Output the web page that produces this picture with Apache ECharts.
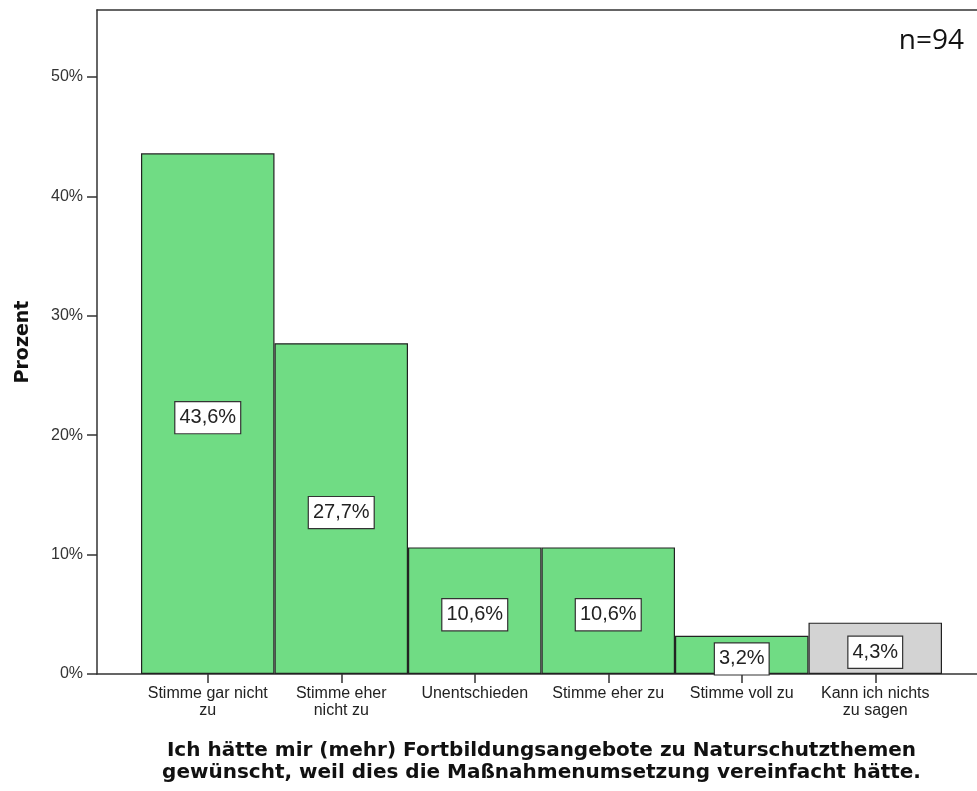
<!DOCTYPE html>
<html>
<head>
<meta charset="utf-8">
<script src="https://cdn.jsdelivr.net/npm/echarts@6/dist/echarts.min.js"></script>
<style>
  html, body { margin: 0; padding: 0; background: #fff; }
  #chart { width: 977px; height: 791px; }
</style>
</head>
<body>
<div id="chart"></div>
<script>
const categories = [
  'Stimme gar nicht\nzu',
  'Stimme eher\nnicht zu',
  'Unentschieden',
  'Stimme eher zu',
  'Stimme voll zu',
  'Kann ich nichts\nzu sagen',
];
const percentValues = [43.6, 27.7, 10.6, 10.6, 3.2, 4.3];
const yTicks = [0, 10, 20, 30, 40, 50];
const sampleSize = 'n=94';
const axisTitle = 'Ich hätte mir (mehr) Fortbildungsangebote zu Naturschutzthemen\ngewünscht, weil dies die Maßnahmenumsetzung vereinfacht hätte.';

// letzte Kategorie = keine Angabe, grau
const green = '#70dc84';
const grey = '#d3d3d3';

const yMax = 55.6;
const plotTop = 10;
const plotBottom = 117;

const chart = echarts.init(document.getElementById('chart'), null, { renderer: 'canvas' });

const frameLine = { show: true, onZero: false, lineStyle: { color: '#333', width: 1.5 } };

chart.setOption({
  animation: false,
  backgroundColor: '#fff',
  title: {
    text: sampleSize,
    right: 8,
    top: 22,
    textStyle: { fontFamily: '"Open Sans", sans-serif', fontSize: 28, fontWeight: 'normal', color: '#111' },
  },
  grid: [
    // Rahmen mit y-Achse
    { left: 97, right: 0, top: plotTop, bottom: plotBottom },
    // Balken
    { left: 141, right: 35, top: plotTop, bottom: plotBottom },
  ],
  xAxis: [
    {
      gridIndex: 0,
      type: 'value',
      min: 0,
      max: 1,
      axisLine: frameLine,
      axisTick: { show: false },
      axisLabel: { show: false },
      splitLine: { show: false },
    },
    {
      gridIndex: 0,
      type: 'value',
      position: 'top',
      min: 0,
      max: 1,
      axisLine: frameLine,
      axisTick: { show: false },
      axisLabel: { show: false },
      splitLine: { show: false },
    },
    {
      gridIndex: 1,
      type: 'category',
      data: categories,
      boundaryGap: true,
      axisLine: { show: false },
      axisTick: { show: true, alignWithLabel: true, length: 9, lineStyle: { color: '#333', width: 1.5 } },
      axisLabel: {
        margin: 11,
        interval: 0,
        fontFamily: '"Liberation Sans", Arial, sans-serif',
        fontSize: 16,
        lineHeight: 17,
        color: '#222',
      },
      name: axisTitle,
      nameLocation: 'middle',
      nameGap: 66,
      nameTextStyle: {
        fontFamily: '"DejaVu Sans", sans-serif',
        fontWeight: 'bold',
        fontSize: 20,
        lineHeight: 22,
        color: '#111',
      },
    },
  ],
  yAxis: [
    {
      gridIndex: 0,
      type: 'value',
      min: 0,
      max: yMax,
      interval: 10,
      axisLine: frameLine,
      axisTick: { show: true, length: 10, customValues: yTicks, lineStyle: { color: '#333', width: 1.5 } },
      axisLabel: {
        margin: 14,
        customValues: yTicks,
        formatter: (v) => v + '%',
        fontFamily: '"Liberation Sans", Arial, sans-serif',
        fontSize: 16,
        color: '#333',
      },
      splitLine: { show: false },
      name: 'Prozent',
      nameLocation: 'middle',
      nameGap: 64,
      nameTextStyle: {
        fontFamily: '"DejaVu Sans", sans-serif',
        fontWeight: 'bold',
        fontSize: 19,
        color: '#111',
      },
    },
    {
      gridIndex: 1,
      type: 'value',
      min: 0,
      max: yMax,
      show: false,
      splitLine: { show: false },
    },
  ],
  series: [
    {
      type: 'bar',
      xAxisIndex: 2,
      yAxisIndex: 1,
      barWidth: '100%',
      barCategoryGap: 0,
      data: percentValues.map((v, i) => ({
        value: v,
        itemStyle: { color: i === categories.length - 1 ? grey : green },
      })),
      itemStyle: { borderColor: '#222', borderWidth: 1.2 },
      label: {
        show: true,
        position: 'inside',
        offset: [0, 4],
        formatter: (p) => String(p.value).replace('.', ',') + '%',
        fontFamily: '"Liberation Sans", Arial, sans-serif',
        fontSize: 20,
        lineHeight: 22,
        color: '#222',
        backgroundColor: '#fff',
        borderColor: '#333',
        borderWidth: 1.2,
        padding: [5, 4, 4, 4],
      },
      emphasis: { disabled: true },
    },
  ],
});
</script>
</body>
</html>
